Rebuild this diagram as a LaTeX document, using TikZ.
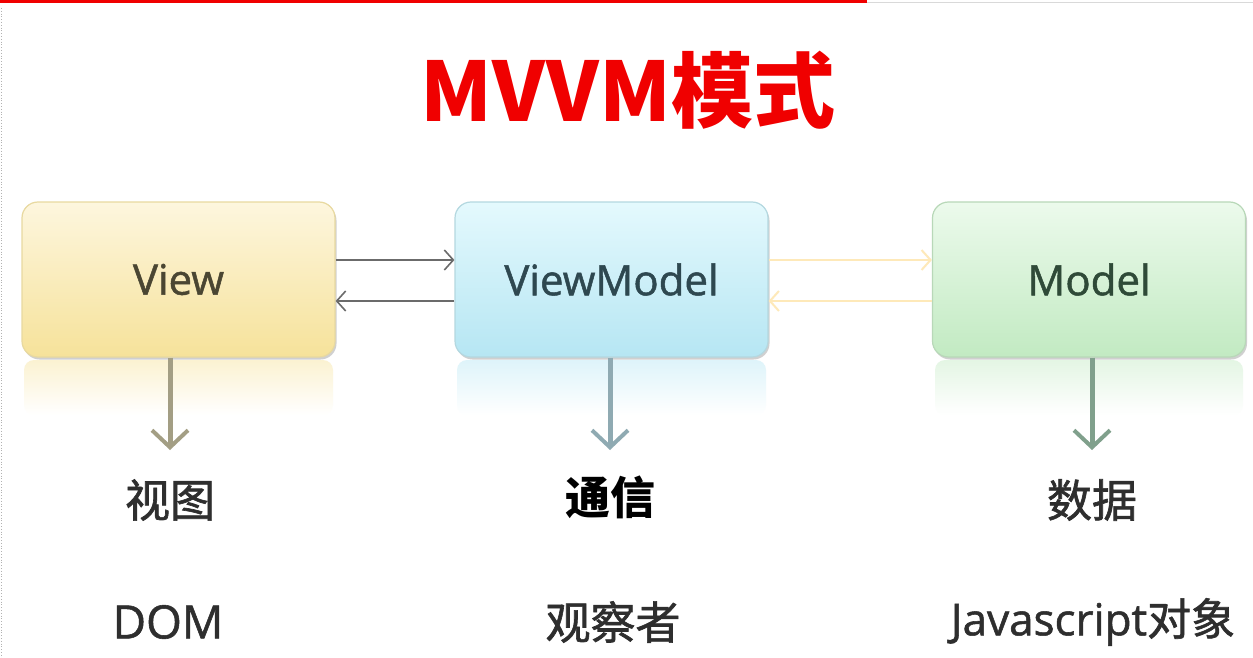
\documentclass[tikz,border=0pt]{standalone}
\usepackage{fontspec}
\setmainfont{Open Sans}
\newfontfamily\latm[FakeBold=1.2]{Open Sans}
\newfontfamily\cjk{Noto Sans CJK SC}
\newfontfamily\cjkm[FakeBold=1.4]{Noto Sans CJK SC}
\usetikzlibrary{arrows.meta,shadows,positioning}
\definecolor{titlered}{HTML}{F00000}
\definecolor{viewtop}{HTML}{FDF6DE}
\definecolor{viewbot}{HTML}{F6E29A}
\definecolor{viewedge}{HTML}{E8D9A0}
\definecolor{vmtop}{HTML}{E4F9FD}
\definecolor{vmbot}{HTML}{B6E6F3}
\definecolor{vmedge}{HTML}{B4D8E0}
\definecolor{mtop}{HTML}{ECFAEC}
\definecolor{mbot}{HTML}{C2EAC2}
\definecolor{medge}{HTML}{B8D8B8}
\definecolor{labelgray}{HTML}{2E2E2E}
\definecolor{viewtext}{HTML}{4A4632}
\definecolor{vmtext}{HTML}{2E4850}
\definecolor{mtext}{HTML}{2F4A38}
\definecolor{viewarrow}{HTML}{A39E84}
\definecolor{vmarrow}{HTML}{8FAAB2}
\definecolor{marrow}{HTML}{80A08C}
\tikzset{
  box/.style={rounded corners=16pt, minimum width=313pt, minimum height=155pt,
    inner sep=0pt, font=\latm\fontsize{42}{42}\selectfont, line width=1.2pt,
    drop shadow={shadow xshift=1.5pt, shadow yshift=-2.5pt, opacity=0.3, fill=black!60}},
  link/.style={draw=black!58, line width=1.6pt, -{Straight Barb[length=9pt,width=20pt,line width=1.6pt]}},
  palelink/.style={draw=yellow!40!orange!25, line width=2pt, -{Straight Barb[length=9pt,width=20pt,line width=2pt]}},
  down/.style={line width=5pt, -{Straight Barb[length=17pt,width=36pt,line width=4pt]}},
  cjklabel/.style={font=\cjkm\fontsize{45}{45}\selectfont, text=labelgray, inner sep=0pt},
  latlabel/.style={font=\latm\fontsize{46}{46}\selectfont, text=labelgray, inner sep=0pt},
}
\begin{document}
\begin{tikzpicture}[x=1pt,y=-1pt]
\useasboundingbox (0,0) rectangle (1253,658);
\fill[white] (0,0) rectangle (1253,658);
% top rules
\fill[titlered] (0,0) rectangle (867,3);
\draw[black!15, line width=1.5pt] (867,2.5) -- (1253,2.5);
\draw[black!30, dotted, line width=0.8pt] (1.5,8) -- (1.5,658);
% title
\node[font=\cjk\bfseries\fontsize{82}{82}\selectfont, text=titlered, anchor=base, inner sep=0pt] (title) at (628,122) {MVVM模式};
% reflections
\shade[top color=viewbot!45, bottom color=white, rounded corners=10pt] (24,360) rectangle (333,415);
\shade[top color=vmbot!45, bottom color=white, rounded corners=10pt] (457,360) rectangle (766,415);
\shade[top color=mbot!45, bottom color=white, rounded corners=10pt] (935,360) rectangle (1243,415);
% boxes
\node[box, draw=viewedge, top color=viewtop, bottom color=viewbot, text=viewtext] (view) at (178.5,279.5) {View};
\node[box, draw=vmedge, top color=vmtop, bottom color=vmbot, text=vmtext] (vm) at (611.5,279.5) {ViewModel};
\node[box, draw=medge, top color=mtop, bottom color=mbot, text=mtext] (model) at (1089,279.5) {Model};
% horizontal links
\draw[link] ([yshift=19.5pt]view.east) -- ([yshift=19.5pt]vm.west);
\draw[link] ([yshift=-21.5pt]vm.west) -- ([yshift=-21.5pt]view.east);
\draw[palelink] ([yshift=19.5pt]vm.east) -- ([yshift=19.5pt]model.west);
\draw[palelink] ([yshift=-21.5pt]model.west) -- ([yshift=-21.5pt]vm.east);
% labels
\node[cjklabel] (viewzh) at (170,500) {视图};
\node[cjklabel, font=\cjk\bfseries\fontsize{45}{45}\selectfont, text=black] (vmzh) at (610,497) {通信};
\node[cjklabel] (modelzh) at (1092,500) {数据};
\node[latlabel] (dom) at (168,622) {DOM};
\node[cjklabel] (obs) at (613,622) {观察者};
\node[latlabel, font=\latm\fontsize{44}{44}\selectfont] (js) at (1093,622) {Javascript{\cjkm 对象}};
% down arrows
\coordinate (viewend) at (170,450);
\coordinate (vmend) at (610,450);
\coordinate (modelend) at (1092,450);
\draw[down, draw=viewarrow] ([xshift=-8.5pt]view.south) -- (viewend);
\draw[down, draw=vmarrow] ([xshift=-1.5pt]vm.south) -- (vmend);
\draw[down, draw=marrow] ([xshift=3pt]model.south) -- (modelend);
\end{tikzpicture}
\end{document}
